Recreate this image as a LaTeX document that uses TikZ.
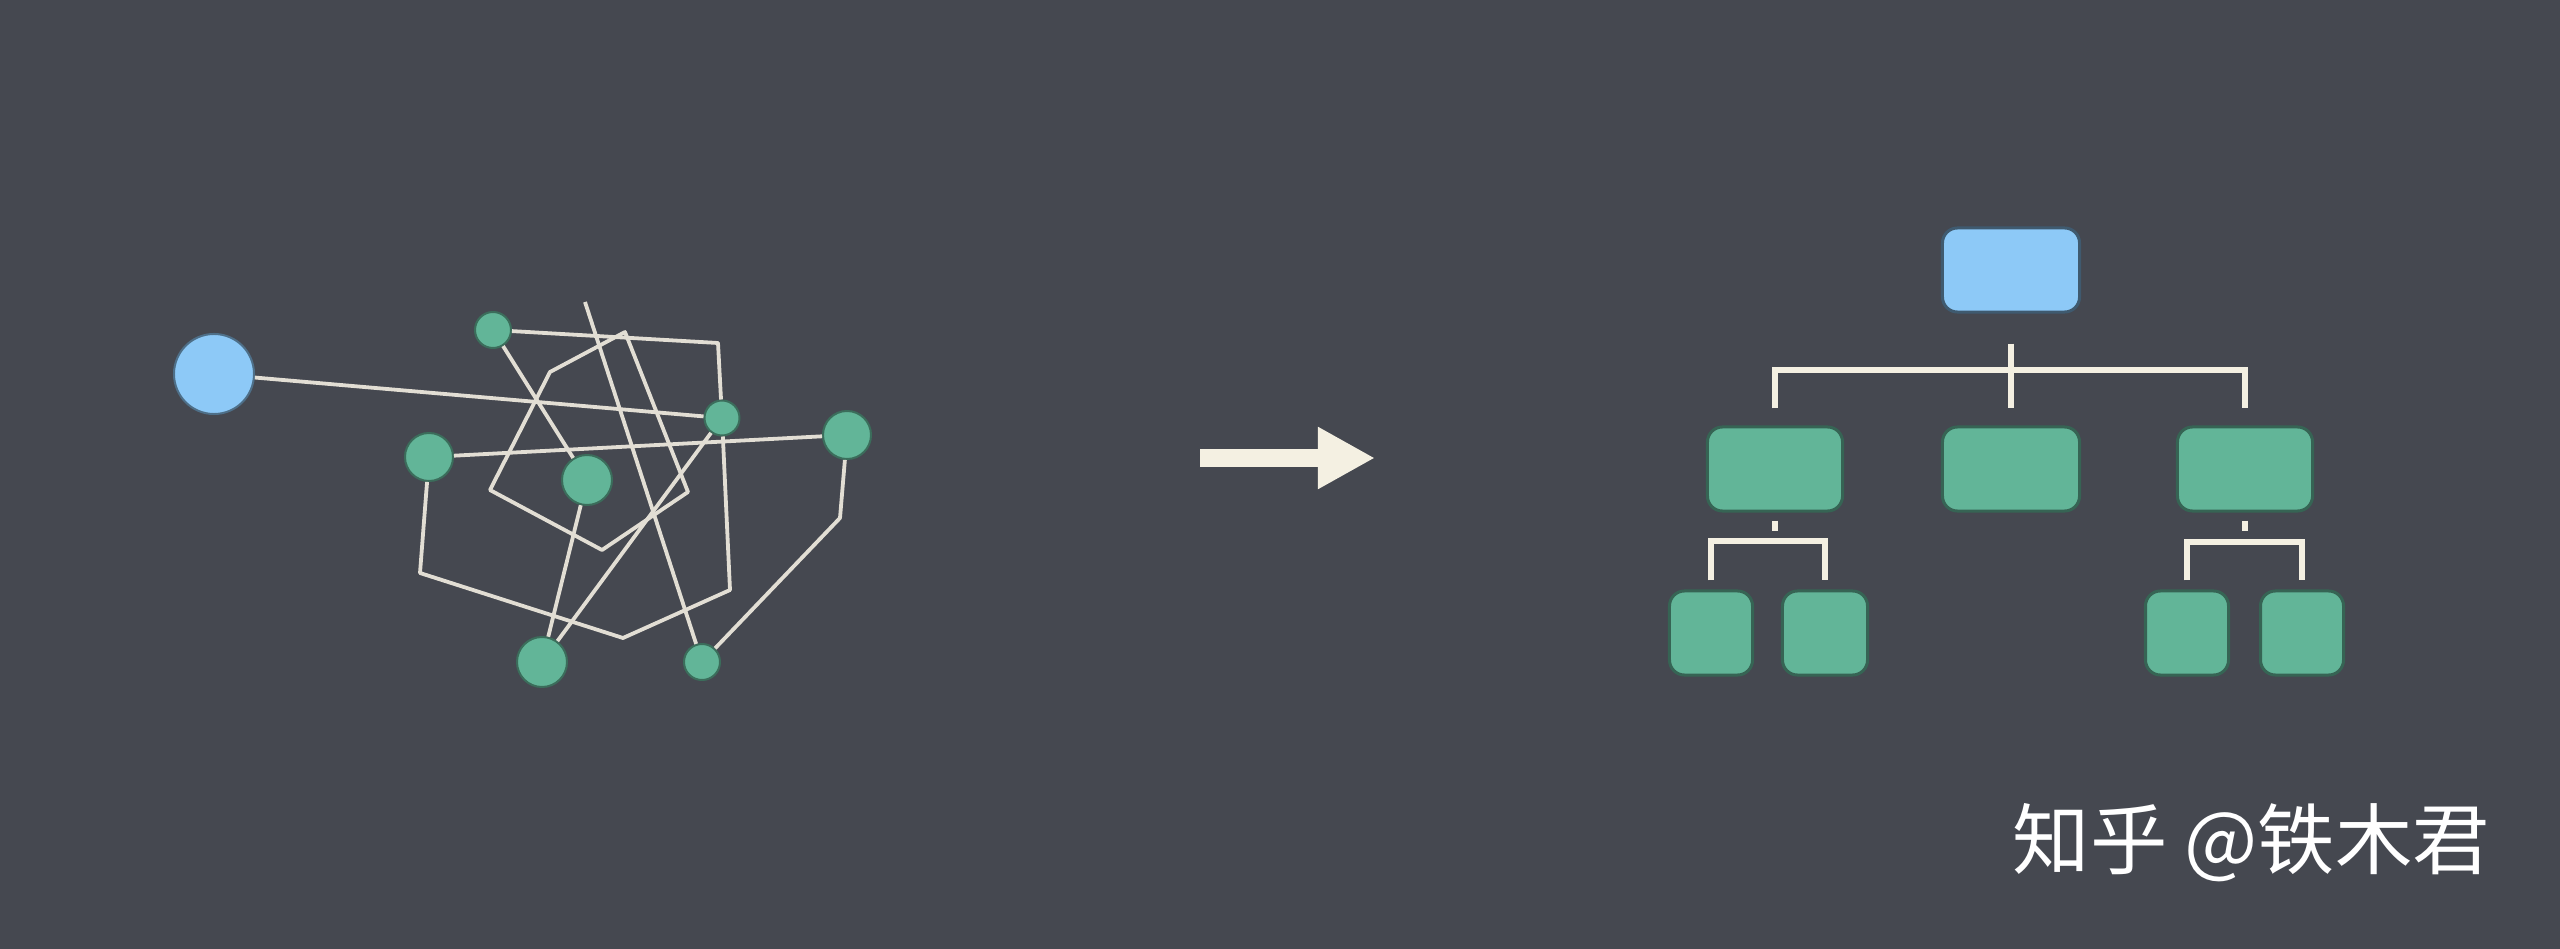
\documentclass[tikz,border=0pt]{standalone}
\usepackage{fontspec}
\newfontfamily\cjk{Noto Sans CJK SC}
\usetikzlibrary{arrows.meta}
\definecolor{slate}{HTML}{454850}
\definecolor{skyblue}{HTML}{8DC9F7}
\definecolor{mint}{HTML}{62B598}
\definecolor{cream}{HTML}{F4F0E2}
\definecolor{wirecol}{HTML}{E2DED4}
\tikzset{
  hub/.style={circle,fill=skyblue,draw=skyblue!55!black,line width=0.02cm,inner sep=0pt,minimum size=0.8cm},
  knot/.style={circle,fill=mint,draw=mint!60!black,line width=0.02cm,inner sep=0pt},
  wire/.style={wirecol,line width=0.038cm,line join=round},
  card/.style={rectangle,rounded corners=0.15cm,inner sep=0pt,minimum height=0.84cm,line width=0.03cm},
  branch/.style={cream,line width=0.065cm},
}
\begin{document}
\begin{tikzpicture}[x=0.01cm,y=-0.01cm]
\fill[slate] (0,0) rectangle (2560,949);

\node[hub] (root) at (214,374) {};
\node[knot,minimum size=0.36cm] (a) at (493,330) {};
\node[knot,minimum size=0.35cm] (b) at (722,418) {};
\node[knot,minimum size=0.48cm] (c) at (847,435) {};
\node[knot,minimum size=0.48cm] (d) at (429,457) {};
\node[knot,minimum size=0.5cm] (e) at (587,480) {};
\node[knot,minimum size=0.5cm] (f) at (542,662) {};
\node[knot,minimum size=0.36cm] (g) at (702,662) {};
\coordinate (c1) at (718,343);
\coordinate (c2) at (730,590);
\coordinate (c3) at (623,638);
\coordinate (c4) at (420,573);
\coordinate (c5) at (840,518);
\coordinate (p0) at (585,302);
\coordinate (q1) at (625,332);
\coordinate (q2) at (550,372);
\coordinate (q3) at (490,490);
\coordinate (q4) at (602,550);
\coordinate (q5) at (688,492);
\draw[wire] (root) -- (b);
\draw[wire] (d) -- (c);
\draw[wire] (a) -- (c1) -- (b) -- (c2) -- (c3) -- (c4) -- (d);
\draw[wire] (a) -- (e);
\draw[wire] (e) -- (f);
\draw[wire] (p0) -- (g);
\draw[wire] (q1) -- (q2) -- (q3) -- (q4) -- (q5) -- cycle;
\draw[wire] (b) -- (f);
\draw[wire] (c) -- (c5) -- (g);

\coordinate (tail) at (1200,458);
\coordinate (tip) at (1375,458);
\draw[cream,line width=0.17cm,-{Triangle[length=0.57cm,width=0.58cm]}] (tail) -- (tip);

\node[card,fill=skyblue,draw=skyblue!45!black,minimum width=1.37cm] (top) at (2011,270) {};
\node[card,fill=mint,draw=mint!55!black,minimum width=1.35cm] (midL) at (1775,469) {};
\node[card,fill=mint,draw=mint!55!black,minimum width=1.37cm] (midC) at (2011,469) {};
\node[card,fill=mint,draw=mint!55!black,minimum width=1.35cm] (midR) at (2245,469) {};
\node[card,fill=mint,draw=mint!55!black,minimum width=0.83cm,minimum height=0.84cm] (lowA) at (1711,633) {};
\node[card,fill=mint,draw=mint!55!black,minimum width=0.85cm,minimum height=0.84cm] (lowB) at (1825,633) {};
\node[card,fill=mint,draw=mint!55!black,minimum width=0.83cm,minimum height=0.84cm] (lowC) at (2187,633) {};
\node[card,fill=mint,draw=mint!55!black,minimum width=0.83cm,minimum height=0.84cm] (lowD) at (2302,633) {};
\coordinate (bus) at (2011,370);
\coordinate (busL) at (1775,541);
\coordinate (busR) at (2248,542);
\draw[branch] ([yshift=-0.3cm]top.south) -- ([yshift=0.17cm]midC.north);
\draw[branch] ([yshift=0.17cm]midL.north) |- (bus) -| ([yshift=0.17cm]midR.north);
\draw[branch] ([yshift=-0.08cm]midL.south) -- ++(0,10);
\draw[branch] ([yshift=-0.08cm]midR.south) -- ++(0,10);
\draw[branch,line width=0.055cm] ([yshift=0.09cm]lowA.north) |- (busL) -| ([yshift=0.09cm]lowB.north);
\draw[branch,line width=0.055cm] ([yshift=0.09cm]lowC.north) |- (busR) -| ([yshift=0.09cm]lowD.north);

\node[anchor=base west,text=white,inner sep=0pt,font=\cjk\fontsize{22pt}{22pt}\selectfont] (mark) at (2012,868) {知乎 @铁木君};
\end{tikzpicture}
\end{document}
